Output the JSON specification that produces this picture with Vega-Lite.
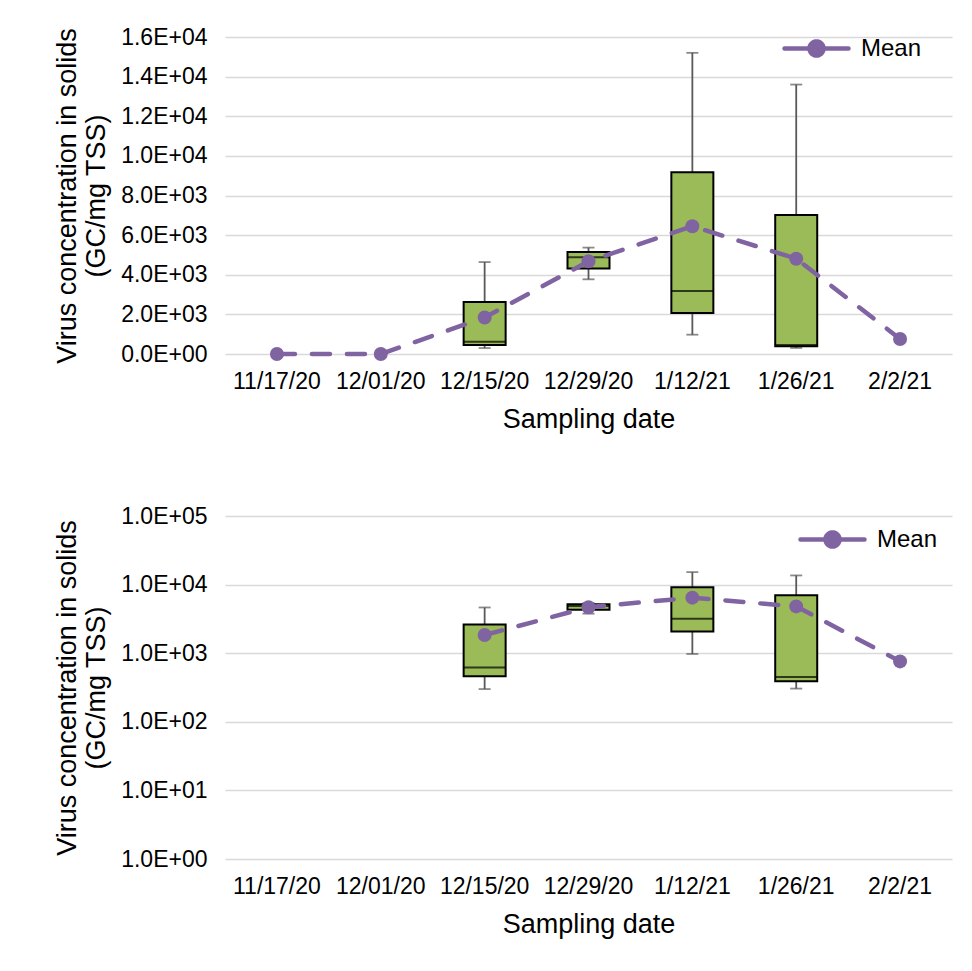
{
  "$schema": "https://vega.github.io/schema/vega-lite/v6.json",
  "padding": {"left": 53, "top": 14, "right": 5, "bottom": 5},
  "background": "white",
  "spacing": 73,
  "config": {
    "font": "Liberation Sans",
    "view": {"stroke": null},
    "axis": {"labelFont": "Liberation Sans", "titleFont": "Liberation Sans", "labelColor": "#000000", "titleColor": "#000000", "titleFontWeight": "normal", "domain": false, "ticks": false, "gridColor": "#d9d9d9", "gridWidth": 1.5, "labelFontSize": 23, "titleFontSize": 27, "labelOverlap": false, "titleLineHeight": 29},
    "legend": {"labelFont": "Liberation Sans", "labelFontSize": 24, "labelColor": "#000000", "padding": 0}
  },
  "datasets": {
    "stats": [
      {"date": "11/17/20", "min": null, "q1": null, "median": null, "q3": null, "max": null, "mean": 0},
      {"date": "12/01/20", "min": null, "q1": null, "median": null, "q3": null, "max": null, "mean": 0},
      {"date": "12/15/20", "min": 300, "q1": 460, "median": 620, "q3": 2620, "max": 4640, "mean": 1840},
      {"date": "12/29/20", "min": 3770, "q1": 4310, "median": 4880, "q3": 5150, "max": 5370, "mean": 4680},
      {"date": "1/12/21", "min": 975, "q1": 2070, "median": 3180, "q3": 9170, "max": 15200, "mean": 6450},
      {"date": "1/26/21", "min": 305, "q1": 390, "median": 450, "q3": 7020, "max": 13600, "mean": 4810},
      {"date": "2/2/21", "min": null, "q1": null, "median": null, "q3": null, "max": null, "mean": 760}
    ]
  },
  "vconcat": [
    {
      "width": 727,
      "height": 317,
      "data": {"name": "stats"},
      "encoding": {
        "x": {"field": "date", "type": "ordinal", "sort": ["11/17/20", "12/01/20", "12/15/20", "12/29/20", "1/12/21", "1/26/21", "2/2/21"], "scale": {"paddingInner": 0, "paddingOuter": 0}, "axis": {"title": "Sampling date", "labelAngle": 0, "labelPadding": 16, "titlePadding": 13, "grid": false}}
      },
      "layer": [
        {"mark": {"type": "rule", "color": "#595959", "strokeWidth": 1.8}, "encoding": {"y": {"field": "min", "type": "quantitative", "scale": {"domain": [0, 16000], "nice": false}, "axis": {"values": [0, 2000, 4000, 6000, 8000, 10000, 12000, 14000, 16000], "title": ["Virus concentration in solids", "(GC/mg TSS)"], "labelPadding": 18, "titlePadding": 10, "labelExpr": "datum.value == 0 ? '0.0E+00' : format(datum.value / pow(10, floor(log(datum.value)/LN10 + 1e-9)), '.1f') + 'E+' + (floor(log(datum.value)/LN10 + 1e-9) < 10 ? '0' : '') + floor(log(datum.value)/LN10 + 1e-9)"}}, "y2": {"field": "max"}}},
        {"mark": {"type": "tick", "color": "#595959", "thickness": 1.8, "size": 12}, "encoding": {"y": {"field": "min", "type": "quantitative", "axis": {"values": [0, 2000, 4000, 6000, 8000, 10000, 12000, 14000, 16000], "title": ["Virus concentration in solids", "(GC/mg TSS)"], "labelPadding": 18, "titlePadding": 10, "labelExpr": "datum.value == 0 ? '0.0E+00' : format(datum.value / pow(10, floor(log(datum.value)/LN10 + 1e-9)), '.1f') + 'E+' + (floor(log(datum.value)/LN10 + 1e-9) < 10 ? '0' : '') + floor(log(datum.value)/LN10 + 1e-9)"}}}},
        {"mark": {"type": "tick", "color": "#595959", "thickness": 1.8, "size": 12}, "encoding": {"y": {"field": "max", "type": "quantitative", "axis": {"values": [0, 2000, 4000, 6000, 8000, 10000, 12000, 14000, 16000], "title": ["Virus concentration in solids", "(GC/mg TSS)"], "labelPadding": 18, "titlePadding": 10, "labelExpr": "datum.value == 0 ? '0.0E+00' : format(datum.value / pow(10, floor(log(datum.value)/LN10 + 1e-9)), '.1f') + 'E+' + (floor(log(datum.value)/LN10 + 1e-9) < 10 ? '0' : '') + floor(log(datum.value)/LN10 + 1e-9)"}}}},
        {"mark": {"type": "bar", "width": 42, "fill": "#9bbb59", "stroke": "#000000", "strokeWidth": 2}, "encoding": {"y": {"field": "q1", "type": "quantitative", "axis": {"values": [0, 2000, 4000, 6000, 8000, 10000, 12000, 14000, 16000], "title": ["Virus concentration in solids", "(GC/mg TSS)"], "labelPadding": 18, "titlePadding": 10, "labelExpr": "datum.value == 0 ? '0.0E+00' : format(datum.value / pow(10, floor(log(datum.value)/LN10 + 1e-9)), '.1f') + 'E+' + (floor(log(datum.value)/LN10 + 1e-9) < 10 ? '0' : '') + floor(log(datum.value)/LN10 + 1e-9)"}}, "y2": {"field": "q3"}}},
        {"mark": {"type": "tick", "color": "#000000", "thickness": 2, "size": 42}, "encoding": {"y": {"field": "median", "type": "quantitative", "axis": {"values": [0, 2000, 4000, 6000, 8000, 10000, 12000, 14000, 16000], "title": ["Virus concentration in solids", "(GC/mg TSS)"], "labelPadding": 18, "titlePadding": 10, "labelExpr": "datum.value == 0 ? '0.0E+00' : format(datum.value / pow(10, floor(log(datum.value)/LN10 + 1e-9)), '.1f') + 'E+' + (floor(log(datum.value)/LN10 + 1e-9) < 10 ? '0' : '') + floor(log(datum.value)/LN10 + 1e-9)"}}}},
        {"mark": {"type": "line", "strokeWidth": 4.5, "strokeDash": [18, 17], "strokeCap": "round"}, "encoding": {"y": {"field": "mean", "type": "quantitative", "axis": {"values": [0, 2000, 4000, 6000, 8000, 10000, 12000, 14000, 16000], "title": ["Virus concentration in solids", "(GC/mg TSS)"], "labelPadding": 18, "titlePadding": 10, "labelExpr": "datum.value == 0 ? '0.0E+00' : format(datum.value / pow(10, floor(log(datum.value)/LN10 + 1e-9)), '.1f') + 'E+' + (floor(log(datum.value)/LN10 + 1e-9) < 10 ? '0' : '') + floor(log(datum.value)/LN10 + 1e-9)"}}, "color": {"datum": "Mean", "scale": {"range": ["#8064a2"]}, "legend": {"title": null, "orient": "none", "legendX": 557, "legendY": -23, "symbolSize": 4096, "symbolType": "M-1,0L-0.22,0M0.22,0L1,0M0.22,0A0.22,0.22,0,1,1,-0.22,0A0.22,0.22,0,1,1,0.22,0Z", "labelOffset": 10, "encode": {"symbols": {"update": {"fill": {"value": "#8064a2"}, "stroke": {"value": "#8064a2"}, "strokeWidth": {"value": 4.5}, "strokeDash": {"value": [1, 0]}, "strokeCap": {"value": "round"}, "shape": {"value": "M-1,0L-0.22,0M0.22,0L1,0M0.22,0A0.22,0.22,0,1,1,-0.22,0A0.22,0.22,0,1,1,0.22,0Z"}, "size": {"value": 4096}}}}}}}},
        {"mark": {"type": "point", "filled": true, "opacity": 1, "size": 196}, "encoding": {"y": {"field": "mean", "type": "quantitative", "axis": {"values": [0, 2000, 4000, 6000, 8000, 10000, 12000, 14000, 16000], "title": ["Virus concentration in solids", "(GC/mg TSS)"], "labelPadding": 18, "titlePadding": 10, "labelExpr": "datum.value == 0 ? '0.0E+00' : format(datum.value / pow(10, floor(log(datum.value)/LN10 + 1e-9)), '.1f') + 'E+' + (floor(log(datum.value)/LN10 + 1e-9) < 10 ? '0' : '') + floor(log(datum.value)/LN10 + 1e-9)"}}, "color": {"datum": "Mean"}}}
      ]
    },
    {
      "width": 727,
      "height": 343,
      "data": {"name": "stats"},
      "encoding": {
        "x": {"field": "date", "type": "ordinal", "sort": ["11/17/20", "12/01/20", "12/15/20", "12/29/20", "1/12/21", "1/26/21", "2/2/21"], "scale": {"paddingInner": 0, "paddingOuter": 0}, "axis": {"title": "Sampling date", "labelAngle": 0, "labelPadding": 16, "titlePadding": 13, "grid": false}}
      },
      "layer": [
        {"mark": {"type": "rule", "color": "#595959", "strokeWidth": 1.8}, "encoding": {"y": {"field": "min", "type": "quantitative", "scale": {"type": "log", "domain": [1, 100000]}, "axis": {"values": [1, 10, 100, 1000, 10000, 100000], "title": ["Virus concentration in solids", "(GC/mg TSS)"], "labelPadding": 18, "titlePadding": 10, "labelExpr": "format(datum.value / pow(10, floor(log(datum.value)/LN10 + 1e-9)), '.1f') + 'E+' + (floor(log(datum.value)/LN10 + 1e-9) < 10 ? '0' : '') + floor(log(datum.value)/LN10 + 1e-9)"}}, "y2": {"field": "max"}}},
        {"mark": {"type": "tick", "color": "#595959", "thickness": 1.8, "size": 12}, "encoding": {"y": {"field": "min", "type": "quantitative"}}},
        {"mark": {"type": "tick", "color": "#595959", "thickness": 1.8, "size": 12}, "encoding": {"y": {"field": "max", "type": "quantitative"}}},
        {"mark": {"type": "bar", "width": 42, "fill": "#9bbb59", "stroke": "#000000", "strokeWidth": 2}, "encoding": {"y": {"field": "q1", "type": "quantitative"}, "y2": {"field": "q3"}}},
        {"mark": {"type": "tick", "color": "#000000", "thickness": 2, "size": 42}, "encoding": {"y": {"field": "median", "type": "quantitative"}}},
        {"transform": [{"filter": "datum.mean > 0"}], "mark": {"type": "line", "strokeWidth": 4.5, "strokeDash": [18, 17], "strokeCap": "round"}, "encoding": {"y": {"field": "mean", "type": "quantitative"}, "color": {"datum": "Mean", "scale": {"range": ["#8064a2"]}, "legend": {"title": null, "orient": "none", "legendX": 573, "legendY": -11, "symbolSize": 4096, "symbolType": "M-1,0L-0.22,0M0.22,0L1,0M0.22,0A0.22,0.22,0,1,1,-0.22,0A0.22,0.22,0,1,1,0.22,0Z", "labelOffset": 10, "encode": {"symbols": {"update": {"fill": {"value": "#8064a2"}, "stroke": {"value": "#8064a2"}, "strokeWidth": {"value": 4.5}, "strokeDash": {"value": [1, 0]}, "strokeCap": {"value": "round"}, "shape": {"value": "M-1,0L-0.22,0M0.22,0L1,0M0.22,0A0.22,0.22,0,1,1,-0.22,0A0.22,0.22,0,1,1,0.22,0Z"}, "size": {"value": 4096}}}}}}}},
        {"transform": [{"filter": "datum.mean > 0"}], "mark": {"type": "point", "filled": true, "opacity": 1, "size": 196}, "encoding": {"y": {"field": "mean", "type": "quantitative"}, "color": {"datum": "Mean"}}}
      ]
    }
  ],
  "resolve": {"scale": {"color": "independent"}, "legend": {"color": "independent"}}
}
